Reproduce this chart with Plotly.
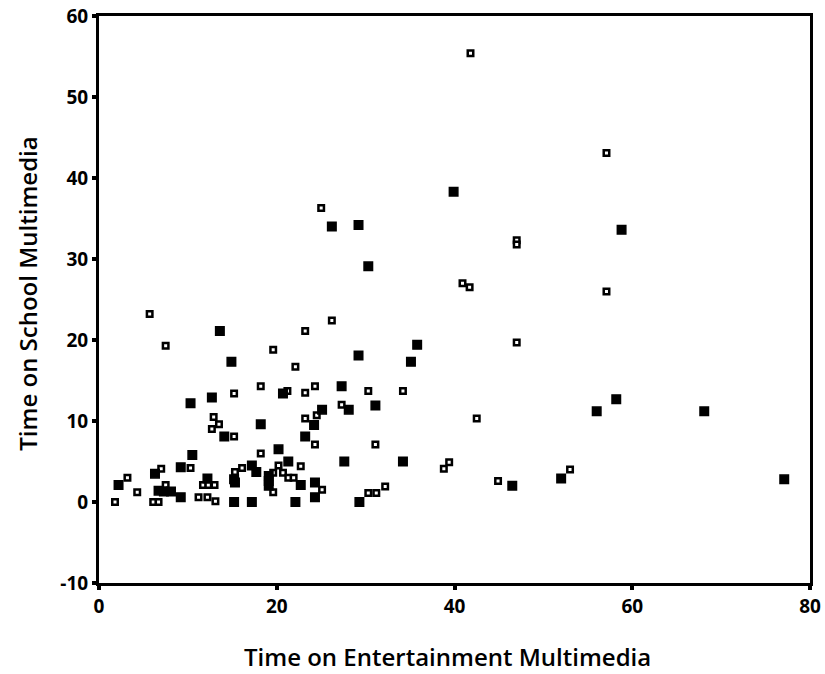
import plotly.graph_objects as go

# Filled (solid) markers
filled_x = [39.9, 26.2, 29.2, 58.8, 30.3, 13.6, 35.8, 35.1, 29.2, 14.9, 20.7, 27.3,
            10.3, 12.7, 25.1, 28.1, 31.1, 56.0, 68.1, 58.2, 24.2, 18.2, 14.1, 23.2,
            20.2, 10.5, 9.2, 6.3, 21.3, 27.6, 34.2, 17.2, 17.7, 15.2, 15.3, 19.1,
            19.1, 19.1, 12.2, 22.7, 24.3, 46.5, 52.0, 77.1, 2.2, 6.7, 7.3, 8.1,
            9.2, 24.3, 15.2, 17.2, 22.1, 29.3]
filled_y = [38.3, 34.0, 34.2, 33.6, 29.1, 21.1, 19.4, 17.3, 18.1, 17.3, 13.4, 14.3,
            12.2, 12.9, 11.4, 11.4, 11.9, 11.2, 11.2, 12.7, 9.5, 9.6, 8.1, 8.1,
            6.5, 5.8, 4.3, 3.5, 5.0, 5.0, 5.0, 4.5, 3.7, 2.8, 2.4, 3.2,
            2.6, 2.0, 2.9, 2.1, 2.4, 2.0, 2.9, 2.8, 2.1, 1.4, 1.3, 1.3,
            0.6, 0.6, 0.0, 0.0, 0.0, 0.0]

# Open (hollow) markers
open_x = [41.8, 57.1, 25.0, 47.0, 47.0, 40.9, 41.7, 57.1, 5.7, 26.2, 23.2, 7.5,
          19.6, 47.0, 22.1, 34.2, 30.3, 15.2, 18.2, 21.2, 23.2, 24.3, 27.3, 12.9,
          13.5, 12.7, 23.2, 24.5, 42.5, 15.2, 24.3, 31.1, 18.2, 22.7, 10.3, 7.0,
          15.3, 16.1, 19.6, 20.2, 20.7, 21.3, 21.9, 38.8, 39.4, 53.0, 44.9, 3.2,
          7.5, 11.7, 12.3, 13.0, 4.3, 19.6, 25.1, 30.3, 31.2, 32.2, 11.2, 12.2,
          13.1, 1.8, 6.1, 6.7]
open_y = [55.4, 43.1, 36.3, 32.3, 31.8, 27.0, 26.5, 26.0, 23.2, 22.4, 21.1, 19.3,
          18.8, 19.7, 16.7, 13.7, 13.7, 13.4, 14.3, 13.7, 13.5, 14.3, 12.0, 10.5,
          9.6, 9.0, 10.3, 10.7, 10.3, 8.1, 7.1, 7.1, 6.0, 4.4, 4.2, 4.1,
          3.7, 4.2, 3.6, 4.5, 3.6, 3.0, 3.0, 4.1, 4.9, 4.0, 2.6, 3.0,
          2.1, 2.1, 2.1, 2.1, 1.2, 1.2, 1.5, 1.1, 1.1, 1.9, 0.6, 0.6,
          0.1, 0.0, 0.0, 0.0]

x_ticks = [0, 20, 40, 60, 80]
y_ticks = [-10, 0, 10, 20, 30, 40, 50, 60]

fig = go.Figure()
fig.add_trace(go.Scatter(
    x=open_x, y=open_y, mode="markers",
    marker=dict(symbol="square", size=5.5, color="white",
                line=dict(color="black", width=2.5)),
    showlegend=False))
fig.add_trace(go.Scatter(
    x=filled_x, y=filled_y, mode="markers",
    marker=dict(symbol="square", size=8.5, color="black",
                line=dict(color="black", width=1.5)),
    showlegend=False))

tickfont = dict(family="Open Sans", size=19, color="black", weight="bold")
fig.update_xaxes(range=[0, 80], tickvals=x_ticks, ticktext=[str(v) for v in x_ticks],
                 showline=True, linecolor="black", linewidth=3, mirror=True,
                 ticks="outside", ticklen=4, tickwidth=4, tickcolor="black",
                 showgrid=False, zeroline=False, tickfont=tickfont, automargin=False)
fig.update_yaxes(range=[-10, 60], tickvals=y_ticks, ticktext=[str(v) for v in y_ticks],
                 showline=True, linecolor="black", linewidth=3, mirror=True,
                 ticks="outside", ticklen=4, tickwidth=4, tickcolor="black",
                 showgrid=False, zeroline=False, tickfont=tickfont, automargin=False)

fig.update_layout(
    width=825, height=674,
    margin=dict(l=99, r=15, t=16, b=91),
    plot_bgcolor="white", paper_bgcolor="white",
    annotations=[
        dict(text="Time on Entertainment Multimedia", xref="paper", yref="paper",
             x=0.49, y=-0.13, xanchor="center", yanchor="middle", showarrow=False,
             font=dict(family="Open Sans", size=24, color="black", weight=600)),
        dict(text="Time on School Multimedia", xref="paper", yref="paper",
             x=-0.1, y=0.51, xanchor="center", yanchor="middle", showarrow=False,
             textangle=-90,
             font=dict(family="Open Sans", size=24, color="black", weight=600)),
    ],
)
fig.write_html("out.html")
